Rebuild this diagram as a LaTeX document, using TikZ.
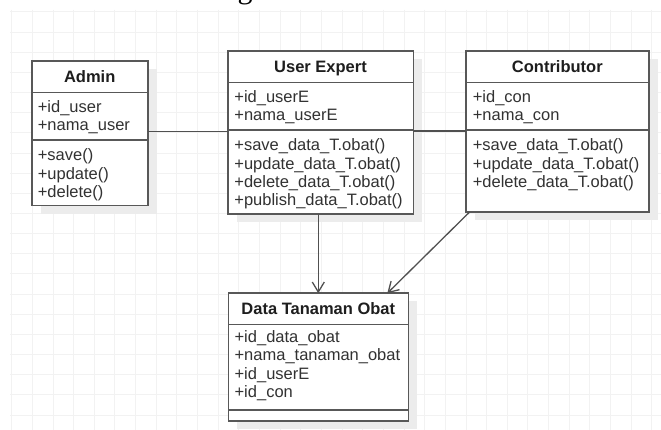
\documentclass[tikz,border=0pt]{standalone}
\usepackage{fontspec}
\setmainfont{Liberation Sans}
\newfontfamily\seriffont{Liberation Serif}
\usetikzlibrary{arrows.meta,shadows}
\definecolor{gridc}{RGB}{242,242,242}
\definecolor{boxc}{RGB}{88,88,88}
\definecolor{connc}{RGB}{80,80,80}
\definecolor{shadowc}{RGB}{236,236,236}
\definecolor{textc}{RGB}{50,50,50}
\definecolor{titlec}{RGB}{30,30,30}
\tikzset{
  gridline/.style={draw=gridc, line width=1pt},
  classbox/.style={draw=boxc, line width=1.6pt, fill=white, inner sep=0pt, outer sep=0pt,
    anchor=north west, drop shadow={shadow xshift=9pt, shadow yshift=-8pt, fill=shadowc, opacity=1}},
  sepline/.style={draw=boxc, line width=1.5pt},
  txt/.style={anchor=base west, inner sep=0pt, text=textc, font=\fontsize{16.5}{18.3}\selectfont},
  ttl/.style={anchor=base, inner sep=0pt, text=titlec, font=\fontsize{16.5}{18.3}\selectfont\bfseries},
  conn/.style={draw=connc, line width=1.3pt},
  arr/.style={conn, -{Straight Barb[length=10pt,width=12pt]}}
}
\begin{document}
\begin{tikzpicture}[x=1pt,y=-1pt]
\useasboundingbox (0,0) rectangle (661,430);
\fill[white] (0,0) rectangle (661,430);
% grid
\foreach \i in {0,...,31} \draw[gridline] ({11.7+20.65*\i},10) -- ({11.7+20.65*\i},430);
\foreach \j in {0,...,20} \draw[gridline] (10,{12+20.15*\j}) -- (661,{12+20.15*\j});
% cut-off heading fragment (as in the reference)
\node[anchor=base, inner sep=0pt, font=\seriffont\fontsize{30}{30}\selectfont, text=black] (cut) at (245,-1.5) {g};

% Admin
\node[classbox, minimum width=116pt, minimum height=144.7pt] (admin) at (31.7,61) {};
\draw[sepline] (admin.west |- 0,92.3) -- (admin.east |- 0,92.3);
\draw[sepline] (admin.west |- 0,140) -- (admin.east |- 0,140);
\node[ttl] (adminT) at (admin.north |- 0,82.5) {Admin};
\node[txt] (admin1) at (37.6,112.5) {+id\_user};
\node[txt] (admin2) at (37.6,130.8) {+nama\_user};
\node[txt] (admin3) at (37.6,160.8) {+save()};
\node[txt] (admin4) at (37.6,179.1) {+update()};
\node[txt] (admin5) at (37.6,197.4) {+delete()};

% User Expert
\node[classbox, minimum width=185.6pt, minimum height=163.3pt] (ue) at (227.7,51) {};
\draw[sepline] (ue.west |- 0,82.7) -- (ue.east |- 0,82.7);
\draw[sepline] (ue.west |- 0,130) -- (ue.east |- 0,130);
\node[ttl] (ueT) at (ue.north |- 0,72.5) {User Expert};
\node[txt] (ue1) at (234.2,102.5) {+id\_userE};
\node[txt] (ue2) at (234.2,120.8) {+nama\_userE};
\node[txt] (ue3) at (234.2,150.8) {+save\_data\_T.obat()};
\node[txt] (ue4) at (234.2,169.1) {+update\_data\_T.obat()};
\node[txt] (ue5) at (234.2,187.4) {+delete\_data\_T.obat()};
\node[txt] (ue6) at (234.2,205.7) {+publish\_data\_T.obat()};

% Contributor
\node[classbox, minimum width=183.3pt, minimum height=161.3pt] (con) at (465.7,51) {};
\draw[sepline] (con.west |- 0,82.7) -- (con.east |- 0,82.7);
\draw[sepline] (con.west |- 0,130) -- (con.east |- 0,130);
\node[ttl] (conT) at (con.north |- 0,72.5) {Contributor};
\node[txt] (con1) at (472.6,102.5) {+id\_con};
\node[txt] (con2) at (472.6,120.8) {+nama\_con};
\node[txt] (con3) at (472.6,150.8) {+save\_data\_T.obat()};
\node[txt] (con4) at (472.6,169.1) {+update\_data\_T.obat()};
\node[txt] (con5) at (472.6,187.4) {+delete\_data\_T.obat()};

% Data Tanaman Obat
\node[classbox, minimum width=180pt, minimum height=127.7pt] (dto) at (228.3,293.3) {};
\draw[sepline] (dto.west |- 0,324.3) -- (dto.east |- 0,324.3);
\draw[sepline] (dto.west |- 0,410) -- (dto.east |- 0,410);
\node[ttl] (dtoT) at (dto.north |- 0,314.1) {Data Tanaman Obat};
\node[txt] (dto1) at (234.4,342.5) {+id\_data\_obat};
\node[txt] (dto2) at (234.4,360.8) {+nama\_tanaman\_obat};
\node[txt] (dto3) at (234.4,379.1) {+id\_userE};
\node[txt] (dto4) at (234.4,397.4) {+id\_con};

% connectors
\draw[conn] (admin.east |- 0,131.7) -- (ue.west |- 0,131.7);
\draw[conn] (ue.east |- 0,131) -- (con.west |- 0,131);
\draw[arr] (ue.south -| dto.north) -- (dto.north);
\draw[arr] ([xshift=3.6pt]con.south west) -- ([xshift=69pt]dto.north);
\end{tikzpicture}
\end{document}
